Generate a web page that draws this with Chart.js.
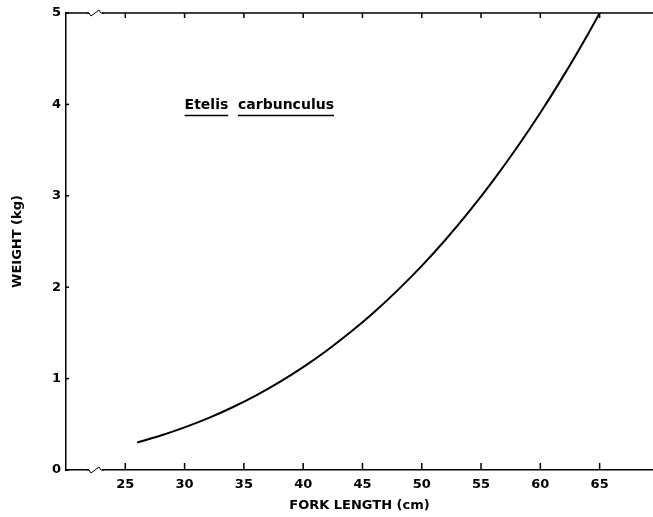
<!DOCTYPE html>
<html lang="en">
<head>
    <meta charset="UTF-8">
    <title>Etelis carbunculus</title>
    <script src="https://cdn.jsdelivr.net/npm/chart.js"></script>
    <style>
        html, body { margin: 0; padding: 0; background: #fff; }
        #wrap { width: 653px; height: 517px; }
    </style>
</head>
<body>
    <div id="wrap"><canvas id="chart"></canvas></div>
    <script>
        // fork length (cm) and weight (kg)
        const forkLength = [26, 28, 30, 32, 34, 36, 38, 40, 42, 44, 46, 48, 50, 52, 54, 56, 58, 60, 62, 64, 65];
        const weight = [0.30, 0.377, 0.466, 0.567, 0.684, 0.815, 0.962, 1.126, 1.308, 1.509, 1.729, 1.971, 2.233, 2.519, 2.829, 3.164, 3.523, 3.908, 4.323, 4.766, 5.00];
        const xTicks = [25, 30, 35, 40, 45, 50, 55, 60, 65];
        const yTicks = [0, 1, 2, 3, 4, 5];
        const speciesName = ["Etelis", "carbunculus"];

        const FONT = "'DejaVu Sans', sans-serif";

        // frame, inward ticks, axis breaks and species label
        const framePlugin = {
            id: "frame",
            afterDraw(chart) {
                const ctx = chart.ctx;
                const area = chart.chartArea;
                const xs = chart.scales.x;
                const ys = chart.scales.y;
                ctx.save();
                ctx.strokeStyle = "#000";
                ctx.lineWidth = 1.5;

                // top line
                ctx.beginPath();
                ctx.moveTo(area.left, area.top);
                ctx.lineTo(area.right + 3, area.top);
                ctx.stroke();

                // ticks on bottom and top
                xTicks.forEach(v => {
                    const px = xs.getPixelForValue(v);
                    ctx.beginPath();
                    ctx.moveTo(px, area.bottom);
                    ctx.lineTo(px, area.bottom - 7);
                    ctx.moveTo(px, area.top);
                    ctx.lineTo(px, area.top + 5);
                    ctx.stroke();
                });
                yTicks.forEach(v => {
                    const py = ys.getPixelForValue(v);
                    ctx.beginPath();
                    ctx.moveTo(area.left, py);
                    ctx.lineTo(area.left + 3, py);
                    ctx.stroke();
                });

                // axis breaks
                [area.bottom, area.top].forEach(py => {
                    ctx.fillStyle = "#fff";
                    ctx.fillRect(89, py - 3, 13, 6);
                    ctx.beginPath();
                    ctx.moveTo(87, py);
                    ctx.lineTo(89, py);
                    ctx.lineTo(91, py + 3);
                    ctx.lineTo(99, py - 3);
                    ctx.lineTo(101, py);
                    ctx.lineTo(104, py);
                    ctx.lineWidth = 1;
                    ctx.stroke();
                    ctx.lineWidth = 1.5;
                });

                // species label, underlined word by word
                ctx.font = "bold 14px " + FONT;
                ctx.fillStyle = "#000";
                ctx.textBaseline = "alphabetic";
                let tx = xs.getPixelForValue(30);
                const ty = ys.getPixelForValue(4) + 5;
                speciesName.forEach(word => {
                    const w = ctx.measureText(word).width;
                    ctx.fillText(word, tx, ty);
                    ctx.beginPath();
                    ctx.moveTo(tx, ty + 6);
                    ctx.lineTo(tx + w, ty + 6);
                    ctx.stroke();
                    tx += w + ctx.measureText("  ").width;
                });
                ctx.restore();
            }
        };

        new Chart(document.getElementById("chart"), {
            type: "line",
            data: {
                datasets: [{
                    data: forkLength.map((l, i) => ({ x: l, y: weight[i] })),
                    borderColor: "#000",
                    borderWidth: 2,
                    pointRadius: 0,
                    cubicInterpolationMode: "monotone",
                    fill: false
                }]
            },
            options: {
                responsive: true,
                maintainAspectRatio: false,
                animation: false,
                layout: { padding: { top: 13, right: 0, left: 0, bottom: 0 } },
                plugins: {
                    legend: { display: false },
                    tooltip: { enabled: false }
                },
                scales: {
                    x: {
                        type: "linear",
                        min: 20,
                        max: 69.5,
                        afterBuildTicks: s => { s.ticks = xTicks.map(v => ({ value: v })); },
                        afterFit: s => { s.height = 47; },
                        grid: { display: false, drawTicks: false },
                        border: { display: true, color: "#000", width: 1.5 },
                        ticks: { color: "#000", font: { family: FONT, size: 13, weight: "bold" }, padding: 7, maxRotation: 0 },
                        title: { display: true, text: "FORK LENGTH (cm)", color: "#000", font: { family: FONT, size: 13, weight: "bold" }, padding: { top: 6 } }
                    },
                    y: {
                        min: 0,
                        max: 5,
                        afterBuildTicks: s => { s.ticks = yTicks.map(v => ({ value: v })); },
                        afterFit: s => { s.width = 66; },
                        grid: { display: false, drawTicks: false },
                        border: { display: true, color: "#000", width: 1.5 },
                        ticks: { color: "#000", font: { family: FONT, size: 13, weight: "bold" }, padding: 5 },
                        title: { display: true, text: "WEIGHT (kg)", color: "#000", font: { family: FONT, size: 13, weight: "bold" }, padding: { bottom: 0, top: 10 } }
                    }
                }
            },
            plugins: [framePlugin]
        });
    </script>
</body>
</html>
